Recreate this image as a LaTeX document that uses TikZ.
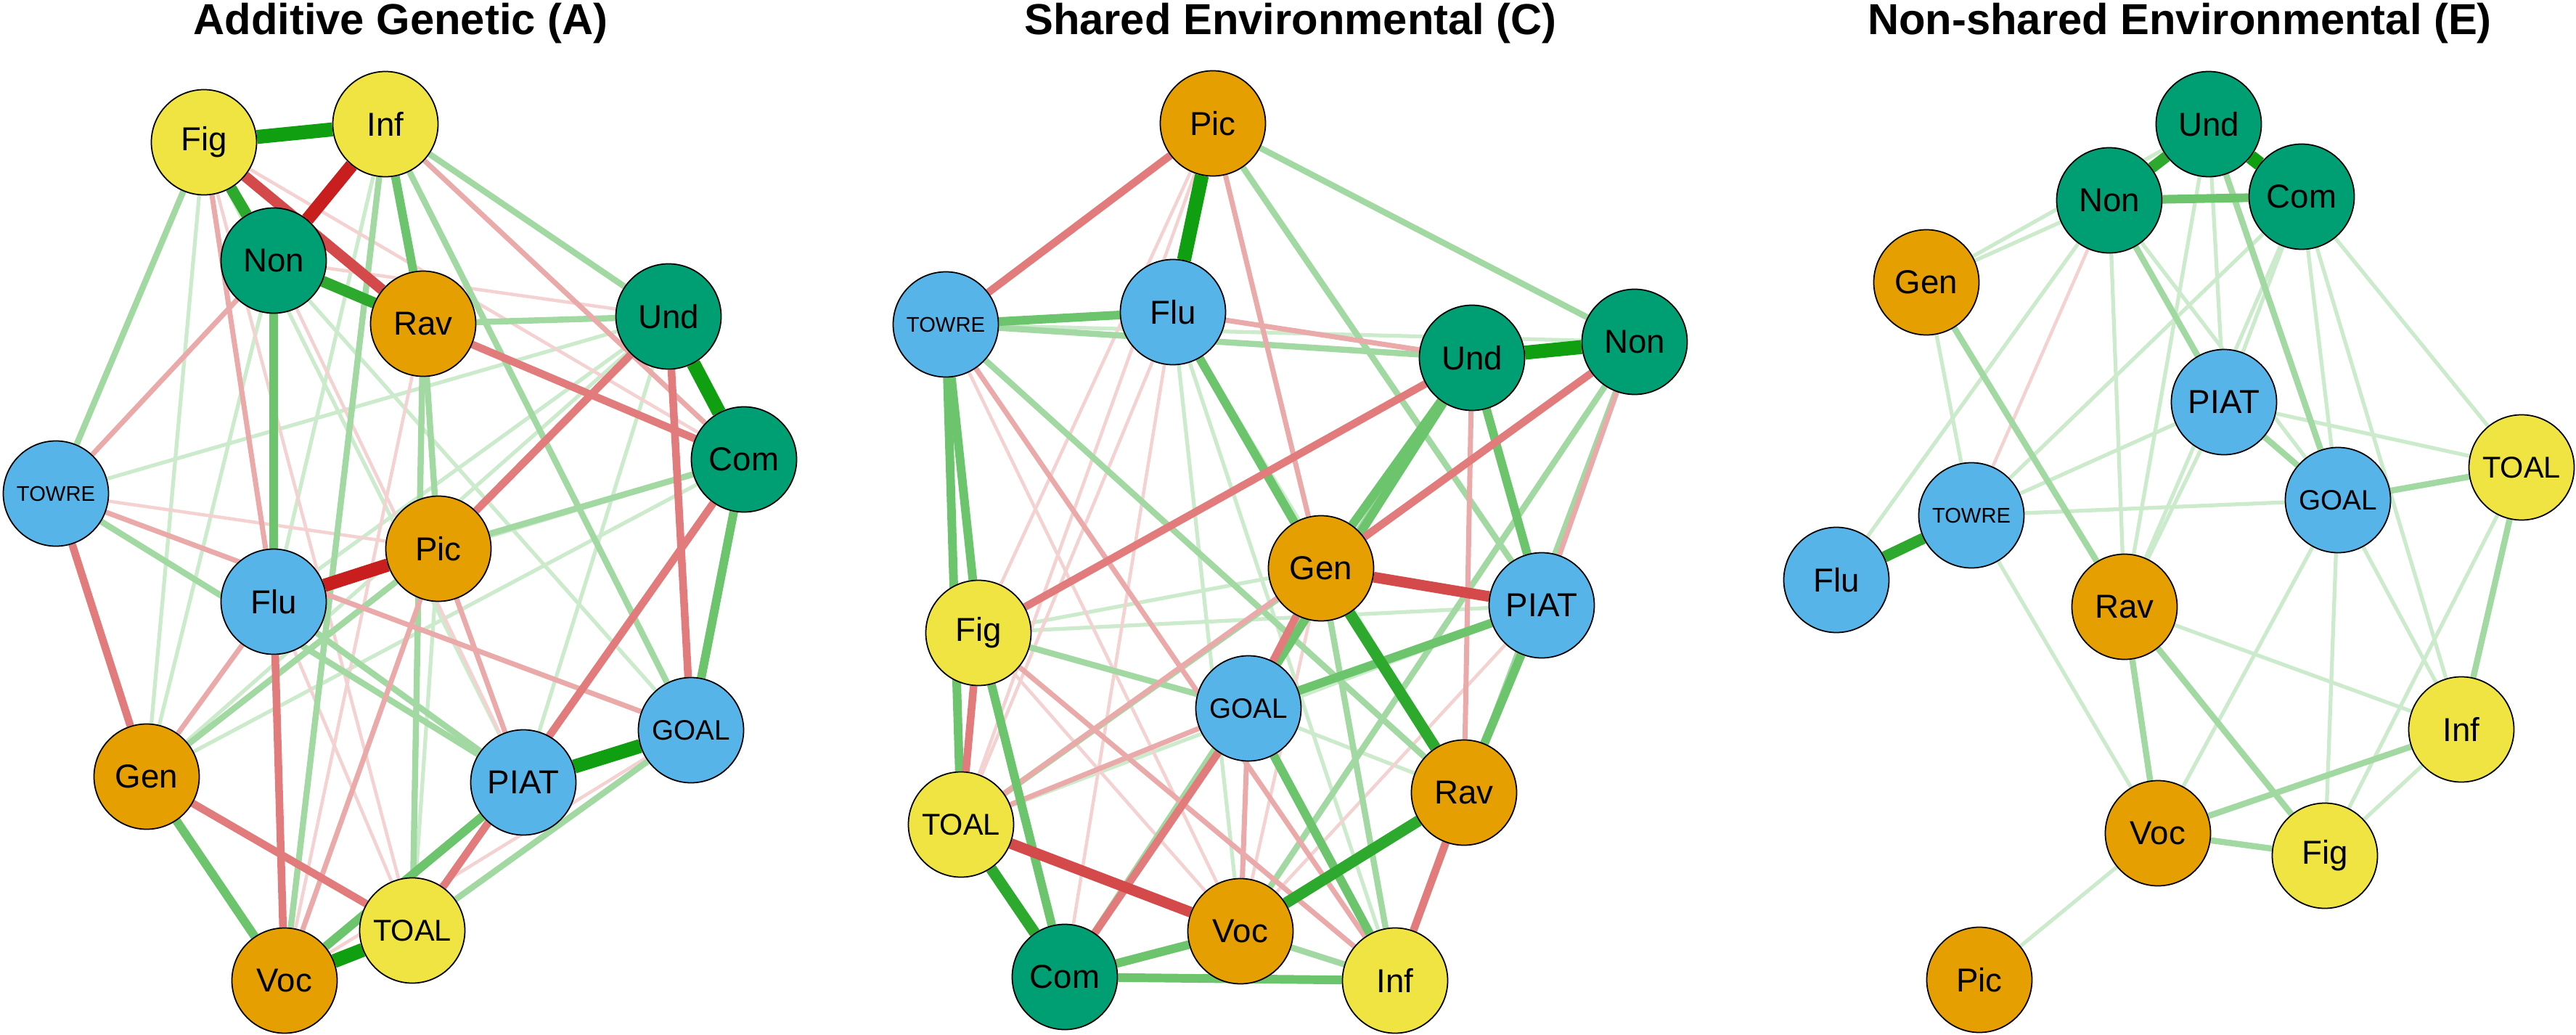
\documentclass[tikz,border=0pt]{standalone}
\usepackage{fontspec}
\setmainfont{Liberation Sans}
\usepackage{tikz}
\usetikzlibrary{backgrounds}

\definecolor{okYellow}{HTML}{F0E442}
\definecolor{okOrange}{HTML}{E69F00}
\definecolor{okBlue}{HTML}{56B4E9}
\definecolor{okGreen}{HTML}{009E73}
\definecolor{posColA}{HTML}{109F10}
\definecolor{posColB}{HTML}{2DA92D}
\definecolor{posColC}{HTML}{6CC46C}
\definecolor{posColD}{HTML}{A2D9A2}
\definecolor{posColE}{HTML}{CCEBCC}
\definecolor{negColA}{HTML}{C81E1E}
\definecolor{negColB}{HTML}{D44A4A}
\definecolor{negColC}{HTML}{E27C7C}
\definecolor{negColD}{HTML}{EBAAAA}
\definecolor{negColE}{HTML}{F4D2D2}

\begin{document}
\begin{tikzpicture}[
  var/.style={circle,draw=black,line width=0.5pt,minimum size=1.45cm,inner sep=0pt,font=\fontsize{13}{13}\selectfont},
  ylw/.style={var,fill=okYellow},
  org/.style={var,fill=okOrange},
  blu/.style={var,fill=okBlue},
  grn/.style={var,fill=okGreen},
  towre/.style={font=\fontsize{8.3}{8.3}\selectfont},
  goal/.style={font=\fontsize{11}{11}\selectfont},
  toal/.style={font=\fontsize{11.8}{11.8}\selectfont},
  title/.style={anchor=base,font=\bfseries\fontsize{17}{17}\selectfont},
  posA/.style={draw=posColA,line width=5.5pt},
  posB/.style={draw=posColB,line width=4.4pt},
  posC/.style={draw=posColC,line width=3.4pt},
  posD/.style={draw=posColD,line width=2.4pt},
  posE/.style={draw=posColE,line width=1.5pt},
  negA/.style={draw=negColA,line width=5.2pt},
  negB/.style={draw=negColB,line width=4.2pt},
  negC/.style={draw=negColC,line width=3.0pt},
  negD/.style={draw=negColD,line width=2.0pt},
  negE/.style={draw=negColE,line width=1.3pt}
]
\useasboundingbox (0,0) rectangle (35.49,-14.26);

 \draw (5.52,-0.48) node[title] (titleA) {Additive Genetic (A)};
 \draw (17.78,-0.48) node[title] (titleC) {Shared Environmental (C)};
 \draw (30.03,-0.48) node[title] (titleE) {Non-shared Environmental (E)};

% additive genetic
 \draw (2.81,-1.96) node[ylw] (aFig) {Fig};
 \draw (5.31,-1.71) node[ylw] (aInf) {Inf};
 \draw (3.77,-3.59) node[grn] (aNon) {Non};
 \draw (5.83,-4.46) node[org] (aRav) {Rav};
 \draw (9.21,-4.36) node[grn] (aUnd) {Und};
 \draw (10.25,-6.33) node[grn] (aCom) {Com};
 \draw (0.77,-6.80) node[blu,towre] (aTOWRE) {TOWRE};
 \draw (6.04,-7.56) node[org] (aPic) {Pic};
 \draw (3.77,-8.29) node[blu] (aFlu) {Flu};
 \draw (9.52,-10.06) node[blu,goal] (aGOAL) {GOAL};
 \draw (7.21,-10.78) node[blu] (aPIAT) {PIAT};
 \draw (2.02,-10.70) node[org] (aGen) {Gen};
 \draw (5.68,-12.82) node[ylw,toal] (aTOAL) {TOAL};
 \draw (3.92,-13.51) node[org] (aVoc) {Voc};

% shared environmental
 \draw (16.71,-1.70) node[org] (cPic) {Pic};
 \draw (13.03,-4.47) node[blu,towre] (cTOWRE) {TOWRE};
 \draw (16.16,-4.30) node[blu] (cFlu) {Flu};
 \draw (20.28,-4.93) node[grn] (cUnd) {Und};
 \draw (22.52,-4.71) node[grn] (cNon) {Non};
 \draw (18.20,-7.83) node[org] (cGen) {Gen};
 \draw (21.24,-8.34) node[blu] (cPIAT) {PIAT};
 \draw (13.48,-8.72) node[ylw] (cFig) {Fig};
 \draw (17.20,-9.76) node[blu,goal] (cGOAL) {GOAL};
 \draw (20.17,-10.92) node[org] (cRav) {Rav};
 \draw (13.24,-11.36) node[ylw,toal] (cTOAL) {TOAL};
 \draw (17.09,-12.83) node[org] (cVoc) {Voc};
 \draw (14.67,-13.46) node[grn] (cCom) {Com};
 \draw (19.22,-13.51) node[ylw] (cInf) {Inf};

% non-shared environmental
 \draw (30.43,-1.71) node[grn] (eUnd) {Und};
 \draw (29.06,-2.76) node[grn] (eNon) {Non};
 \draw (31.71,-2.71) node[grn] (eCom) {Com};
 \draw (26.54,-3.89) node[org] (eGen) {Gen};
 \draw (30.64,-5.54) node[blu] (ePIAT) {PIAT};
 \draw (32.21,-6.89) node[blu,goal] (eGOAL) {GOAL};
 \draw (34.74,-6.44) node[ylw,toal] (eTOAL) {TOAL};
 \draw (27.16,-7.10) node[blu,towre] (eTOWRE) {TOWRE};
 \draw (25.30,-7.99) node[blu] (eFlu) {Flu};
 \draw (29.27,-8.36) node[org] (eRav) {Rav};
 \draw (33.91,-10.05) node[ylw] (eInf) {Inf};
 \draw (29.73,-11.48) node[org] (eVoc) {Voc};
 \draw (32.03,-11.79) node[ylw] (eFig) {Fig};
 \draw (27.27,-13.50) node[org] (ePic) {Pic};

\begin{scope}[on background layer]
 % faint
 \path[posE] (aFig) edge (aGen) (aInf) edge (aFlu) (aGen) edge (aNon) (aGen) edge (aUnd)
   (aGen) edge (aCom) (aNon) edge (aGOAL) (aTOWRE) edge (aUnd) (aUnd) edge (aPIAT)
   (aUnd) edge (aFlu) (aPic) edge (aTOAL) (aFig) edge (aPIAT) (aCom) edge (aFlu);
 \path[negE] (aNon) edge (aUnd) (aFig) edge (aCom) (aTOWRE) edge (aPic) (aRav) edge (aVoc)
   (aFlu) edge (aTOAL) (aGOAL) edge (aVoc) (aNon) edge (aPIAT) (aFig) edge (aTOAL);
 \path[posE] (cFig) edge (cGen) (cFig) edge (cPIAT) (cTOAL) edge (cPIAT) (cTOWRE) edge (cNon)
   (cFlu) edge (cInf) (cFlu) edge (cVoc) (cFlu) edge (cRav) (cGOAL) edge (cRav);
 \path[negE] (cPic) edge (cFig) (cFig) edge (cVoc) (cVoc) edge (cGen) (cVoc) edge (cPIAT)
   (cFlu) edge (cCom) (cPic) edge (cTOAL) (cTOWRE) edge (cVoc) (cFlu) edge (cTOAL);
 \path[posE] (eNon) edge (eGen) (eUnd) edge (eGen) (eGen) edge (eTOWRE) (eNon) edge (eGOAL)
   (eNon) edge (eRav) (eUnd) edge (ePIAT) (eUnd) edge (eRav) (eCom) edge (ePIAT)
   (eCom) edge (eTOWRE) (eCom) edge (eGOAL) (eCom) edge (eTOAL) (eCom) edge (eInf)
   (eCom) edge (eRav) (ePIAT) edge (eTOAL) (ePIAT) edge (eTOWRE) (ePIAT) edge (eRav)
   (eGOAL) edge (eTOWRE) (eTOWRE) edge (eVoc) (eRav) edge (eInf) (eGOAL) edge (eVoc)
   (eGOAL) edge (eFig) (eGOAL) edge (eInf) (eTOAL) edge (eFig) (eFig) edge (eInf)
   (eVoc) edge (ePic) (eFlu) edge (eNon);
 \path[negE] (eNon) edge (eTOWRE);
 % light
 \path[posD] (aFig) edge (aTOWRE) (aRav) edge (aPic) (aRav) edge (aUnd) (aTOWRE) edge (aPIAT)
   (aFlu) edge (aPIAT) (aInf) edge (aVoc) (aRav) edge (aTOAL) (aGOAL) edge (aTOAL)
   (aInf) edge (aUnd) (aPic) edge (aGen) (aPic) edge (aCom) (aInf) edge (aGOAL);
 \path[negD] (aPic) edge (aVoc) (aNon) edge (aTOWRE) (aGen) edge (aFlu) (aTOWRE) edge (aGOAL)
   (aPic) edge (aPIAT) (aFig) edge (aFlu) (aInf) edge (aCom);
 \path[posD] (cFig) edge (cGOAL) (cPic) edge (cPIAT) (cPic) edge (cNon) (cTOAL) edge (cGen)
   (cVoc) edge (cInf) (cTOWRE) edge (cUnd) (cNon) edge (cInf) (cNon) edge (cVoc)
   (cUnd) edge (cCom) (cGen) edge (cInf) (cTOWRE) edge (cRav);
 \path[negD] (cPic) edge (cGen) (cGOAL) edge (cVoc) (cNon) edge (cPIAT) (cNon) edge (cTOAL)
   (cFlu) edge (cUnd) (cTOWRE) edge (cInf) (cFig) edge (cInf) (cUnd) edge (cRav)
   (cTOAL) edge (cGOAL);
 \path[posD] (eGen) edge (eRav) (ePIAT) edge (eGOAL) (eRav) edge (eFig) (eRav) edge (eVoc)
   (eVoc) edge (eInf) (eVoc) edge (eFig) (eUnd) edge (eGOAL) (eNon) edge (ePIAT)
   (eTOAL) edge (eInf) (eGOAL) edge (eTOAL);
 % medium
 \path[posC] (aGen) edge (aVoc) (aGOAL) edge (aCom) (aVoc) edge (aPIAT) (aInf) edge (aRav)
   (aNon) edge (aFlu);
 \path[negC] (aGen) edge (aTOWRE) (aGen) edge (aTOAL) (aFlu) edge (aVoc) (aUnd) edge (aGOAL)
   (aUnd) edge (aPic) (aRav) edge (aCom) (aCom) edge (aTOAL);
 \path[posC] (cTOWRE) edge (cFlu) (cUnd) edge (cGen) (cPIAT) edge (cGOAL) (cFlu) edge (cGen)
   (cGOAL) edge (cInf) (cVoc) edge (cCom) (cCom) edge (cInf) (cFig) edge (cCom)
   (cTOWRE) edge (cFig) (cTOWRE) edge (cTOAL) (cUnd) edge (cPIAT) (cPIAT) edge (cRav)
   (cUnd) edge (cGOAL);
 \path[negC] (cPic) edge (cTOWRE) (cFig) edge (cTOAL) (cGOAL) edge (cCom) (cRav) edge (cInf)
   (cGen) edge (cGOAL) (cNon) edge (cGen) (cUnd) edge (cFig);
 \path[posC] (eNon) edge (eCom);
 % strong
 \path[posB] (aFig) edge (aNon) (aNon) edge (aRav);
 \path[negB] (aFig) edge (aRav);
 \path[posB] (cTOAL) edge (cCom) (cVoc) edge (cRav) (cGen) edge (cRav);
 \path[negB] (cGen) edge (cPIAT) (cTOAL) edge (cVoc);
 \path[posB] (eUnd) edge (eNon) (eTOWRE) edge (eFlu);
 \path[posA] (aFig) edge (aInf) (aUnd) edge (aCom) (aPIAT) edge (aGOAL) (aVoc) edge (aTOAL);
 \path[negA] (aInf) edge (aNon) (aFlu) edge (aPic);
 \path[posA] (cPic) edge (cFlu) (cUnd) edge (cNon);
 \path[posA] (eUnd) edge (eCom);
\end{scope}

\end{tikzpicture}
\end{document}
